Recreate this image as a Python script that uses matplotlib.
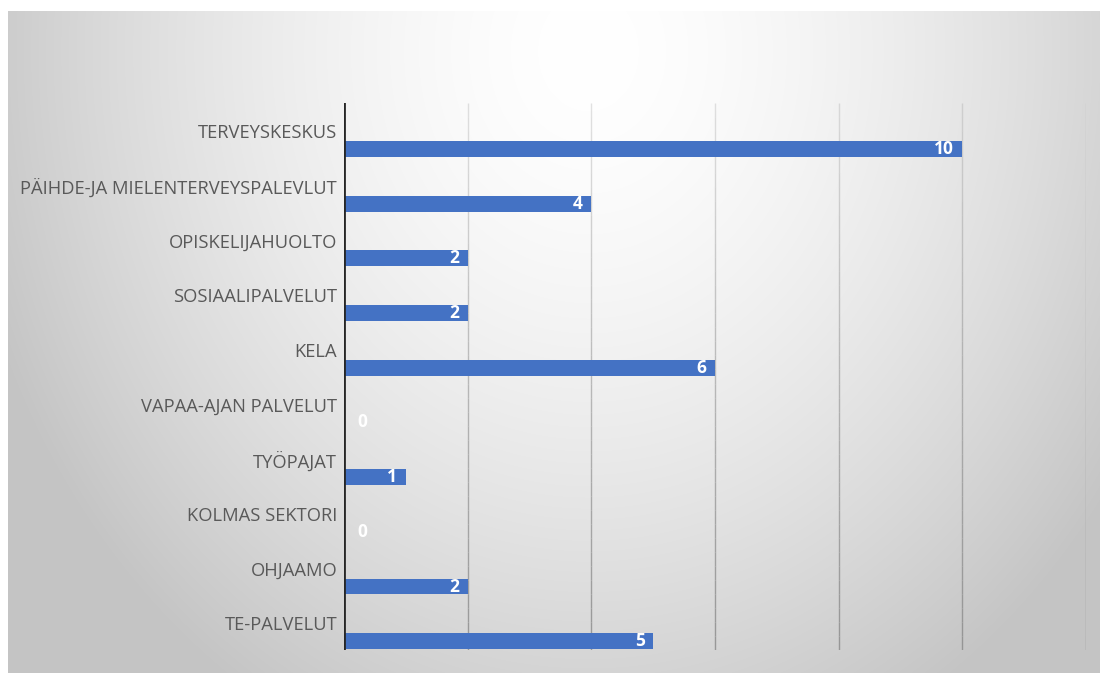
import numpy as np
import matplotlib
matplotlib.use("Agg")
import matplotlib.pyplot as plt
from matplotlib.collections import LineCollection

# data (top to bottom)
categories = ["TERVEYSKESKUS", "PÄIHDE-JA MIELENTERVEYSPALEVLUT", "OPISKELIJAHUOLTO",
              "SOSIAALIPALVELUT", "KELA", "VAPAA-AJAN PALVELUT", "TYÖPAJAT",
              "KOLMAS SEKTORI", "OHJAAMO", "TE-PALVELUT"]
values = [10, 4, 2, 2, 6, 0, 1, 0, 2, 5]
xticks = [0, 2, 4, 6, 8, 10, 12]

plt.rcParams['font.family'] = ['Open Sans', 'DejaVu Sans']

W, H = 1100, 673
fig = plt.figure(figsize=(W / 100, H / 100), dpi=100)
fig.patch.set_facecolor("white")

# gradient background (radial, white near top centre, grey at edges)
bg = fig.add_axes([8 / W, 0, 1 - 8 / W, 1 - 11 / H])
yy, xx = np.mgrid[0:662, 0:1092]
d = np.sqrt(((xx - 580) / 640.0) ** 2 + ((yy - 40) / 760.0) ** 2)
d = np.clip(d, 0, 1)
g = 1.0 - 0.23 * d ** 1.6
bg.imshow(np.dstack([g, g, g]), aspect="auto", extent=[0, 1, 0, 1], origin="upper")
bg.axis("off")

# main axes: x0 at 344px, x12 at 1086px, top 103px, bottom 650px
left, right, top, bottom = 344, 1086, 103, 650
ax = fig.add_axes([left / W, 1 - bottom / H, (right - left) / W, (bottom - top) / H])
ax.patch.set_alpha(0)
n = len(categories)
ax.set_xlim(0, 12)
ax.set_ylim(n, 0)

bar_c = "#4472c4"
for i, (cat, v) in enumerate(zip(categories, values)):
    yc = i + 0.84
    ax.barh(yc, v, height=0.29, color=bar_c, zorder=3)
    if v > 0:
        ax.text(v - 0.14, yc, str(v), color="white", fontsize=12.5, fontweight="bold",
                ha="right", va="center", zorder=4)
    else:
        ax.text(0.3, yc, str(v), color="white", fontsize=12.5, fontweight="bold",
                ha="center", va="center", zorder=4)
    ax.text(-0.11, i + 0.55, cat, color="#595959", fontsize=13.2,
            ha="right", va="center")

# gridlines fading towards the top
ys = np.linspace(0, n, 40)
for x in xticks[1:]:
    segs = [[(x, ys[k]), (x, ys[k + 1])] for k in range(len(ys) - 1)]
    cols = [(0.55, 0.55, 0.55, 0.25 + 0.6 * k / len(segs)) for k in range(len(segs))]
    ax.add_collection(LineCollection(segs, colors=cols, linewidths=1, zorder=1))
ax.axvline(0, color="#262626", lw=2, zorder=5)

for s in ax.spines.values():
    s.set_visible(False)
ax.set_xticks([])
ax.set_yticks([])

fig.savefig("out.png", dpi=100)
